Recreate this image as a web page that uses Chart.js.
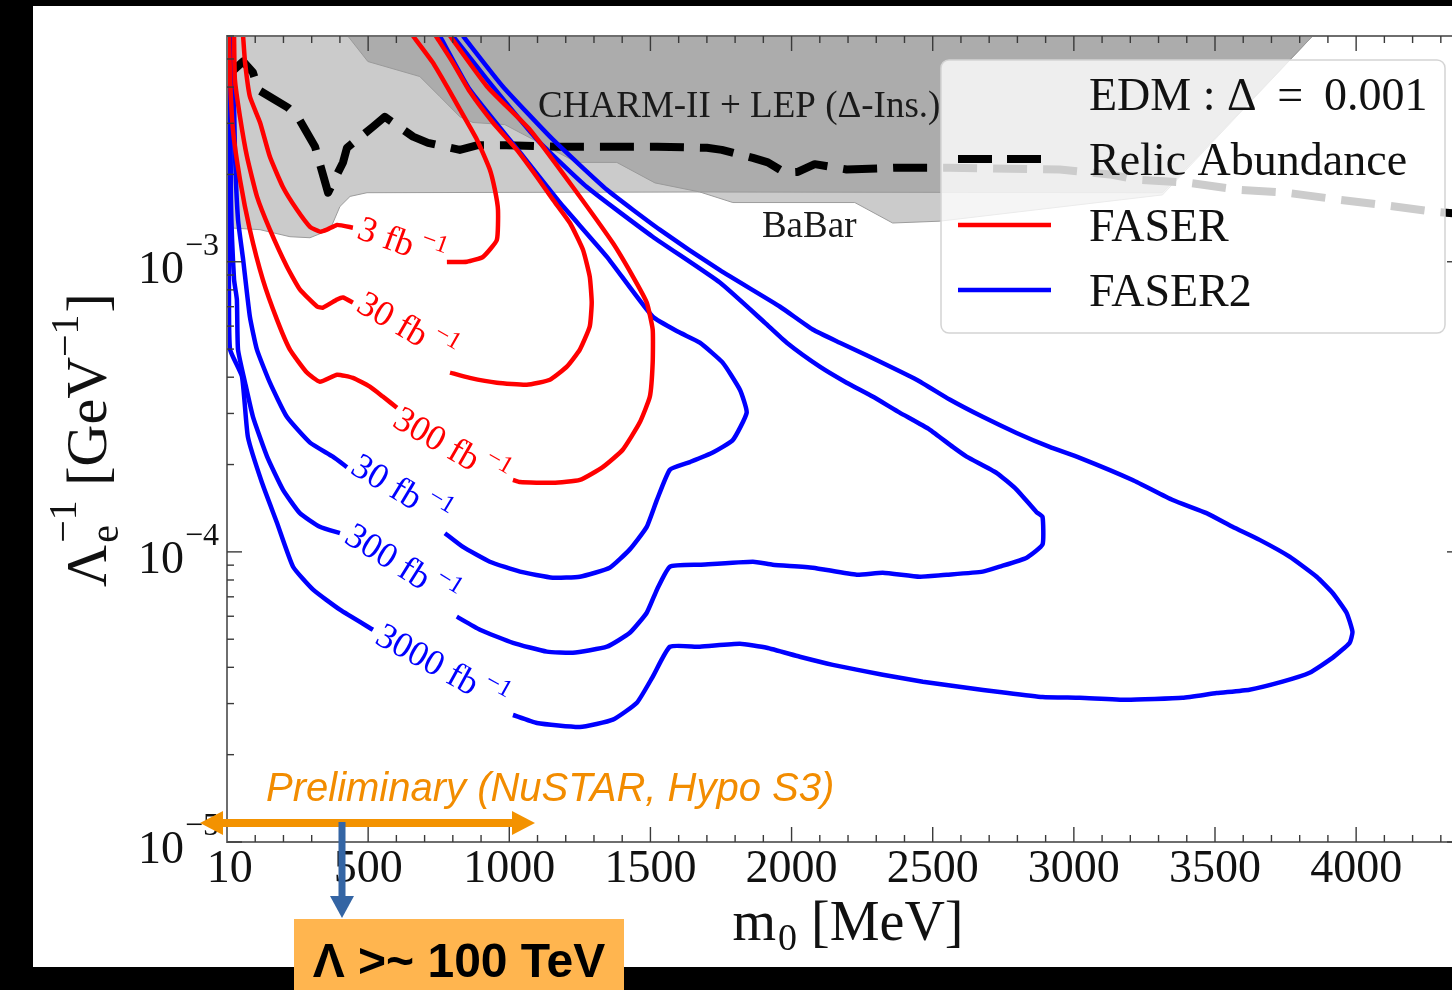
<!DOCTYPE html>
<html>
<head>
<meta charset="utf-8">
<title>FASER / FASER2 sensitivity – EDM, Δ = 0.001</title>
<script src="https://cdn.jsdelivr.net/npm/chart.js@4/dist/chart.umd.min.js"></script>
<style>
  html, body { margin: 0; padding: 0; background: #000; overflow: hidden; width: 1452px; height: 990px; }
  canvas { display: block; }
</style>
</head>
<body>
<canvas id="c" width="1470" height="990" style="width:1470px;height:990px"></canvas>
<script>
// ---------------- data (m0 in MeV, 1/Lambda_e in GeV^-1) ----------------
const xTickValues = [10, 500, 1000, 1500, 2000, 2500, 3000, 3500, 4000];
const xTickLabels = ['10', '500', '1000', '1500', '2000', '2500', '3000', '3500', '4000'];
const yDecades = [-5, -4, -3];

// excluded regions (lower edges, filled up to the top of the plot)
const babarEdge = [[0,1.31e-3],[117,1.29e-3],[223,1.22e-3],[294,1.21e-3],[365,1.29e-3],[400,1.55e-3],[436,1.68e-3],[496,1.73e-3],[1675,1.74e-3],[1792,1.60e-3],[2224,1.60e-3],[2358,1.36e-3],[2525,1.38e-3],[3314,1.70e-3],[3846,6.0e-3]];
const charmLepEdge = [[428,6.0e-3],[499,4.90e-3],[683,4.35e-3],[754,3.71e-3],[825,3.16e-3],[871,3.02e-3],[984,2.97e-3],[1239,2.20e-3],[1381,2.20e-3],[1516,1.87e-3],[1675,1.74e-3],[3314,1.73e-3],[3846,6.0e-3]];

// relic abundance line
const relicAbundance = [[18,4.53e-3],[57,4.90e-3],[92,4.49e-3],[110,3.92e-3],[216,3.40e-3],[251,3.16e-3],[312,2.49e-3],[358,1.73e-3],[411,2.20e-3],[425,2.47e-3],[517,2.92e-3],[559,3.16e-3],[659,2.70e-3],[712,2.57e-3],[825,2.43e-3],[885,2.52e-3],[991,2.52e-3],[1169,2.49e-3],[1346,2.49e-3],[1523,2.49e-3],[1700,2.47e-3],[1753,2.43e-3],[1863,2.28e-3],[1916,2.20e-3],[1976,2.03e-3],[2022,2.04e-3],[2082,2.17e-3],[2195,2.08e-3],[2372,2.11e-3],[2560,2.11e-3],[2950,2.08e-3],[3127,2.00e-3],[3222,1.92e-3],[3410,1.87e-3],[3587,1.77e-3],[3753,1.73e-3],[3931,1.64e-3],[4093,1.57e-3],[4270,1.49e-3],[4375,1.46e-3]];

// FASER contours (3, 30, 300 fb^-1), each split at its inline label
const faser3Left = [[57,6.0e-3],[64,4.86e-3],[81,3.71e-3],[117,3.02e-3],[152,2.30e-3],[198,1.81e-3],[248,1.51e-3],[294,1.32e-3],[329,1.27e-3],[354,1.29e-3],[390,1.34e-3],[446,1.31e-3]];
const faser3Right = [[779,9.98e-4],[850,1.0e-3],[907,1.04e-3],[956,1.19e-3],[960,1.51e-3],[949,1.77e-3],[931,2.08e-3],[885,2.64e-3],[825,3.35e-3],[779,4.02e-3],[729,4.86e-3],[659,6.0e-3]];
const faser30Left = [[25,6.0e-3],[28,4.25e-3],[46,3.16e-3],[71,2.30e-3],[106,1.68e-3],[152,1.29e-3],[212,9.63e-4],[258,8.03e-4],[319,7.01e-4],[340,6.95e-4],[390,7.41e-4],[411,7.53e-4],[446,7.23e-4]];
const faser30Right = [[790,4.15e-4],[860,3.98e-4],[956,3.83e-4],[1062,3.77e-4],[1144,3.92e-4],[1204,4.35e-4],[1250,4.98e-4],[1285,5.98e-4],[1292,7.23e-4],[1285,8.89e-4],[1261,1.10e-3],[1215,1.36e-3],[1154,1.64e-3],[1098,1.96e-3],[1027,2.43e-3],[942,3.02e-3],[860,3.86e-3],[800,4.86e-3],[740,6.0e-3]];
const faser300Left = [[7,6.0e-3],[11,4.25e-3],[21,2.85e-3],[46,1.92e-3],[81,1.29e-3],[127,8.68e-4],[177,6.32e-4],[223,4.98e-4],[283,4.15e-4],[329,3.86e-4],[390,4.08e-4],[446,3.98e-4],[506,3.71e-4],[552,3.43e-4],[602,3.14e-4]];
const faser300Right = [[1013,1.77e-4],[1038,1.74e-4],[1154,1.73e-4],[1250,1.77e-4],[1331,1.96e-4],[1402,2.25e-4],[1462,2.79e-4],[1498,3.43e-4],[1508,4.49e-4],[1508,5.84e-4],[1487,7.23e-4],[1438,8.89e-4],[1367,1.16e-3],[1225,1.81e-3],[1073,2.85e-3],[921,4.02e-3],[790,6.0e-3]];

// FASER2 contours (30, 300, 3000 fb^-1)
const faser2_30Left = [[21,6.0e-3],[28,2.43e-3],[39,1.40e-3],[57,1.02e-3],[81,6.47e-4],[106,4.98e-4],[152,3.83e-4],[212,2.92e-4],[294,2.38e-4],[375,2.13e-4],[425,1.96e-4]];
const faser2_30Right = [[772,1.16e-4],[836,1.04e-4],[931,9.25e-5],[1038,8.55e-5],[1154,8.15e-5],[1250,8.21e-5],[1356,8.82e-5],[1427,1.02e-4],[1487,1.22e-4],[1523,1.51e-4],[1569,1.92e-4],[1640,2.04e-4],[1721,2.20e-4],[1792,2.43e-4],[1841,3.02e-4],[1817,3.62e-4],[1756,4.49e-4],[1675,5.26e-4],[1604,5.70e-4],[1508,6.47e-4],[1346,1.04e-3],[1179,1.60e-3],[1038,2.38e-3],[860,3.92e-3],[754,6.0e-3]];
const faser2_300Left = [[11,6.0e-3],[14,1.64e-3],[25,8.68e-4],[35,7.41e-4],[39,4.98e-4],[64,3.83e-4],[92,2.92e-4],[142,2.13e-4],[198,1.64e-4],[258,1.36e-4],[329,1.22e-4],[400,1.16e-4]];
const faser2_300Right = [[814,5.98e-5],[896,5.39e-5],[1013,4.86e-5],[1133,4.53e-5],[1225,4.49e-5],[1346,4.71e-5],[1427,5.26e-5],[1487,6.17e-5],[1523,7.41e-5],[1569,8.89e-5],[1675,9.03e-5],[1863,9.25e-5],[1933,9.03e-5],[2075,8.82e-5],[2231,8.34e-5],[2323,8.48e-5],[2454,8.21e-5],[2550,8.34e-5],[2677,8.55e-5],[2737,8.89e-5],[2833,9.55e-5],[2889,1.06e-4],[2889,1.32e-4],[2868,1.37e-4],[2797,1.64e-4],[2727,1.87e-4],[2620,2.13e-4],[2571,2.30e-4],[2489,2.64e-4],[2383,3.02e-4],[2287,3.43e-4],[2195,3.83e-4],[2100,4.35e-4],[1983,5.26e-4],[1905,6.17e-4],[1746,8.48e-4],[1508,1.22e-3],[1275,1.81e-3],[1098,2.64e-3],[921,4.25e-3],[800,6.0e-3]];
const faser2_3000Left = [[4,6.0e-3],[7,7.41e-4],[11,4.98e-4],[53,4.02e-4],[74,2.49e-4],[124,1.73e-4],[177,1.26e-4],[234,8.89e-5],[305,7.41e-5],[400,6.32e-5],[517,5.39e-5]];
const faser2_3000Right = [[1013,2.74e-5],[1098,2.57e-5],[1250,2.49e-5],[1367,2.64e-5],[1452,3.02e-5],[1508,3.71e-5],[1569,4.71e-5],[1675,4.71e-5],[1817,4.82e-5],[1912,4.67e-5],[2029,4.35e-5],[2146,4.08e-5],[2323,3.77e-5],[2465,3.57e-5],[2620,3.40e-5],[2737,3.29e-5],[2889,3.16e-5],[3021,3.14e-5],[3187,3.09e-5],[3385,3.14e-5],[3506,3.26e-5],[3622,3.35e-5],[3739,3.57e-5],[3835,3.83e-5],[3916,4.31e-5],[3977,4.86e-5],[3987,5.30e-5],[3966,6.17e-5],[3916,7.23e-5],[3860,8.21e-5],[3764,9.63e-5],[3658,1.10e-4],[3562,1.22e-4],[3470,1.36e-4],[3350,1.51e-4],[3208,1.77e-4],[3021,2.11e-4],[2914,2.30e-4],[2797,2.57e-4],[2677,2.92e-4],[2560,3.35e-4],[2443,3.92e-4],[2266,4.76e-4],[2171,5.26e-4],[2075,5.84e-4],[1958,7.01e-4],[1746,9.35e-4],[1533,1.29e-3],[1346,1.77e-3],[1154,2.64e-3],[977,4.02e-3],[836,6.0e-3]];

// integrated luminosities written on the contours
const faserLumi = ['3', '30', '300'];
const faser2Lumi = ['30', '300', '3000'];

// ---------------- drawing setup ----------------
const RED = '#ff0000', BLUE = '#0000ff';
const SERIF = '"Liberation Serif", "DejaVu Serif", serif';
const SANS = '"Liberation Sans", Arial, sans-serif';

// where each contour label sits (data coordinates) and its tilt in degrees
const labelAnchors = [
  { text: faserLumi[0],  color: RED,  x: 616, y: 1.15e-3, angle: 20 },
  { text: faserLumi[1],  color: RED,  x: 634, y: 5.87e-4, angle: 30 },
  { text: faserLumi[2],  color: RED,  x: 790, y: 2.27e-4, angle: 30 },
  { text: faser2Lumi[0], color: BLUE, x: 613, y: 1.61e-4, angle: 31 },
  { text: faser2Lumi[1], color: BLUE, x: 616, y: 8.89e-5, angle: 32 },
  { text: faser2Lumi[2], color: BLUE, x: 758, y: 3.95e-5, angle: 29 }
];

const pts = arr => arr.map(([x, y]) => ({ x, y }));

function contour(data, color) {
  return { data: pts(data), showLine: true, borderColor: color, borderWidth: 4.5,
           tension: 0.15, pointRadius: 0, fill: false, order: 10 };
}

function layoutRich(ctx, parts) {
  let x = 0, prevStart = 0, prevW = 0;
  const items = [];
  for (const p of parts) {
    ctx.font = p.f;
    const w = ctx.measureText(p.t).width;
    let start;
    if (p.stack) {
      start = prevStart;
      x = Math.max(prevStart + prevW, start + w);
      prevW = Math.max(prevW, w);
    } else {
      start = x + (p.gap || 0);
      x = start + w;
      prevStart = start; prevW = w;
    }
    items.push({ p, start });
  }
  return { items, width: x };
}

function drawRich(ctx, parts, x, y, align) {
  const L = layoutRich(ctx, parts);
  const x0 = align === 'center' ? x - L.width / 2 : align === 'right' ? x - L.width : x;
  ctx.textAlign = 'left';
  for (const it of L.items) {
    ctx.font = it.p.f;
    ctx.fillText(it.p.t, x0 + it.start, y + (it.p.dy || 0));
  }
}

const pageBackground = {
  id: 'pageBackground',
  beforeDraw(chart) {
    const ctx = chart.ctx;
    ctx.save();
    ctx.fillStyle = '#000';
    ctx.fillRect(0, 0, chart.width, chart.height);
    ctx.fillStyle = '#fff';
    ctx.fillRect(33, 6, chart.width - 33, 961);
    ctx.restore();
  }
};

const decorations = {
  id: 'decorations',
  afterDatasetsDraw(chart) {
    const { ctx, chartArea: a } = chart;
    const xs = chart.scales.x, ys = chart.scales.y;
    const X = v => xs.getPixelForValue(v), Y = v => ys.getPixelForValue(v);
    ctx.save();

    // region names
    ctx.fillStyle = '#1a1a1a';
    ctx.textBaseline = 'alphabetic';
    ctx.textAlign = 'left';
    ctx.font = '37px ' + SERIF;
    ctx.fillText('CHARM-II + LEP (Δ-Ins.)', X(1102), Y(3.16e-3));
    ctx.fillText('BaBar', X(1895), Y(1.22e-3));

    // contour labels
    ctx.textBaseline = 'middle';
    for (const lb of labelAnchors) {
      ctx.save();
      ctx.translate(X(lb.x), Y(lb.y));
      ctx.rotate(lb.angle * Math.PI / 180);
      ctx.fillStyle = lb.color;
      drawRich(ctx, [
        { t: lb.text + ' fb', f: '36px ' + SERIF },
        { t: '−1', f: '25px ' + SERIF, dy: -13, gap: 6 }
      ], 0, 0, 'center');
      ctx.restore();
    }

    // legend
    const lx0 = 941, ly0 = 60, lx1 = 1445, ly1 = 333;
    ctx.beginPath();
    ctx.roundRect(lx0, ly0, lx1 - lx0, ly1 - ly0, 8);
    ctx.fillStyle = 'rgba(255,255,255,0.8)';
    ctx.fill();
    ctx.strokeStyle = '#d4d4d4';
    ctx.lineWidth = 1.5;
    ctx.stroke();

    ctx.textBaseline = 'alphabetic';
    ctx.fillStyle = '#111';
    ctx.font = '46px ' + SERIF;
    ctx.fillText('EDM : Δ\u2009 =\u2009 0.001', 1089, 110);
    ctx.fillText('Relic Abundance', 1089, 175);
    ctx.fillText('FASER', 1089, 241);
    ctx.fillText('FASER2', 1089, 306);

    ctx.lineCap = 'butt';
    ctx.setLineDash([34, 15]);
    ctx.strokeStyle = '#000'; ctx.lineWidth = 8;
    ctx.beginPath(); ctx.moveTo(958, 159); ctx.lineTo(1051, 159); ctx.stroke();
    ctx.setLineDash([]);
    ctx.lineWidth = 4.5;
    ctx.strokeStyle = RED;
    ctx.beginPath(); ctx.moveTo(958, 225); ctx.lineTo(1051, 225); ctx.stroke();
    ctx.strokeStyle = BLUE;
    ctx.beginPath(); ctx.moveTo(958, 290); ctx.lineTo(1051, 290); ctx.stroke();

    // frame with inward ticks on all four sides
    ctx.strokeStyle = '#6e6e6e';
    ctx.lineWidth = 2;
    ctx.strokeRect(a.left, a.top, a.right - a.left, a.bottom - a.top);
    ctx.strokeStyle = '#3a3a3a';
    ctx.lineWidth = 1.4;
    const seg = (x1, y1, x2, y2) => { ctx.beginPath(); ctx.moveTo(x1, y1); ctx.lineTo(x2, y2); ctx.stroke(); };
    for (let v = 100; v < xs.max; v += 100) {
      const p = X(v);
      const len = v % 500 === 0 ? 15 : 7;
      seg(p, a.bottom, p, a.bottom - len);
      seg(p, a.top, p, a.top + len);
    }
    for (const e of yDecades) {
      for (let m = 1; m <= 9; m++) {
        const v = m * Math.pow(10, e);
        if (v > ys.max) break;
        const p = Y(v);
        const len = m === 1 ? 15 : 7;
        seg(a.left, p, a.left + len, p);
        seg(a.right, p, a.right - len, p);
      }
    }

    // tick labels
    ctx.fillStyle = '#111';
    ctx.textAlign = 'center';
    ctx.font = '46px ' + SERIF;
    xTickValues.forEach((v, i) => ctx.fillText(xTickLabels[i], X(v), a.bottom + 40));
    for (const e of yDecades) {
      const p = Y(Math.pow(10, e));
      ctx.textAlign = 'right';
      ctx.font = '46px ' + SERIF;
      ctx.fillText('10', 184, p + 21);
      ctx.textAlign = 'left';
      ctx.font = '32px ' + SERIF;
      ctx.fillText('−' + Math.abs(e), 185, p - 7);
    }

    // axis titles
    drawRich(ctx, [
      { t: 'm', f: '56px ' + SERIF },
      { t: '0', f: '38px ' + SERIF, dy: 10, gap: 2 },
      { t: ' [MeV]', f: '56px ' + SERIF }
    ], 848, 940, 'center');

    ctx.save();
    ctx.translate(106, 440);
    ctx.rotate(-Math.PI / 2);
    drawRich(ctx, [
      { t: 'Λ', f: '58px ' + SERIF },
      { t: 'e', f: '40px ' + SERIF, dy: 12, gap: 2 },
      { t: '−1', f: '40px ' + SERIF, dy: -30, stack: true },
      { t: ' [GeV', f: '58px ' + SERIF },
      { t: '−1', f: '40px ' + SERIF, dy: -28 },
      { t: ']', f: '58px ' + SERIF, gap: 2 }
    ], 0, 0, 'center');
    ctx.restore();

    ctx.restore();
  },
  afterDraw(chart) {
    const ctx = chart.ctx;
    ctx.save();
    // preliminary bound annotation
    ctx.fillStyle = '#f28c00';
    ctx.font = 'italic 40px ' + SANS;
    ctx.textAlign = 'left';
    ctx.textBaseline = 'alphabetic';
    ctx.fillText('Preliminary (NuSTAR, Hypo S3)', 266, 801);

    ctx.fillStyle = '#f39200';
    ctx.fillRect(221, 819, 293, 8);
    ctx.beginPath(); ctx.moveTo(200, 823); ctx.lineTo(223, 811); ctx.lineTo(223, 835); ctx.closePath(); ctx.fill();
    ctx.beginPath(); ctx.moveTo(535, 823); ctx.lineTo(512, 811); ctx.lineTo(512, 835); ctx.closePath(); ctx.fill();

    ctx.fillStyle = '#3465a4';
    ctx.fillRect(338.5, 822, 7, 76);
    ctx.beginPath(); ctx.moveTo(330, 896); ctx.lineTo(354, 896); ctx.lineTo(342, 918); ctx.closePath(); ctx.fill();

    ctx.fillStyle = '#ffb54f';
    ctx.fillRect(294, 919, 330, 71);
    ctx.fillStyle = '#000';
    ctx.font = 'bold 48px ' + SANS;
    ctx.textAlign = 'center';
    ctx.fillText('Λ >~ 100 TeV', 459, 977);
    ctx.restore();
  }
};

new Chart(document.getElementById('c'), {
  type: 'scatter',
  data: {
    datasets: [
      { data: pts(babarEdge), showLine: true, borderColor: '#9c9c9c', borderWidth: 1,
        backgroundColor: '#cbcbcb', fill: 'end', pointRadius: 0, order: 40 },
      { data: pts(charmLepEdge), showLine: true, borderColor: '#9a9a9a', borderWidth: 1,
        backgroundColor: '#acacac', fill: 'end', pointRadius: 0, order: 39 },
      { data: pts(relicAbundance), showLine: true, borderColor: '#000', borderWidth: 8,
        borderDash: [34, 16], borderCapStyle: 'butt', pointRadius: 0, fill: false, order: 20 },
      contour(faser3Left, RED), contour(faser3Right, RED),
      contour(faser30Left, RED), contour(faser30Right, RED),
      contour(faser300Left, RED), contour(faser300Right, RED),
      contour(faser2_30Left, BLUE), contour(faser2_30Right, BLUE),
      contour(faser2_300Left, BLUE), contour(faser2_300Right, BLUE),
      contour(faser2_3000Left, BLUE), contour(faser2_3000Right, BLUE)
    ]
  },
  options: {
    responsive: false,
    animation: false,
    events: [],
    layout: { padding: { left: 227, top: 36, right: 8, bottom: 148 } },
    scales: {
      x: { type: 'linear', min: 0, max: 4375, display: false },
      y: { type: 'logarithmic', min: 1e-5, max: 6e-3, display: false }
    },
    plugins: { legend: { display: false }, tooltip: { enabled: false } },
    elements: { line: { tension: 0, borderJoinStyle: 'round' } }
  },
  plugins: [pageBackground, decorations]
});
</script>
</body>
</html>
